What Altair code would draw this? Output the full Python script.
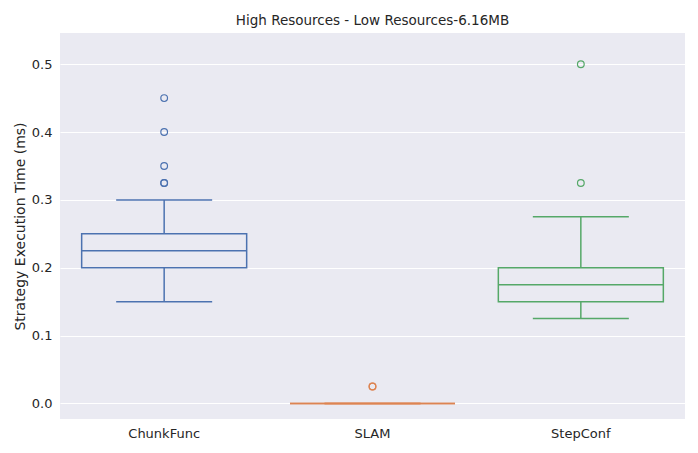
import altair as alt
import pandas as pd

cats = ["ChunkFunc", "SLAM", "StepConf"]
colors = ["#4c72b0", "#dd8452", "#55a868"]
wlow = [0.15, 0.0, 0.125]
q1 = [0.2, 0.0, 0.15]
med = [0.225, 0.0, 0.175]
q3 = [0.25, 0.0, 0.2]
whigh = [0.3, 0.0, 0.275]
out_cat = ["ChunkFunc"] * 5 + ["SLAM"] * 2 + ["StepConf"] * 2
out_val = [0.325, 0.325, 0.35, 0.4, 0.45, 0.025, 0.025, 0.325, 0.5]

df = pd.DataFrame(dict(cat=cats, wlow=wlow, q1=q1, med=med, q3=q3, whigh=whigh))
dfo = pd.DataFrame(dict(cat=out_cat, v=out_val))

x = alt.X("cat:N", sort=cats, title=None,
          scale=alt.Scale(paddingInner=0.2, paddingOuter=0.1),
          axis=alt.Axis(labelAngle=0, labelFontSize=13, labelColor="#262626", ticks=False, labelPadding=8, domain=False, grid=False))
color = alt.Color("cat:N", scale=alt.Scale(domain=cats, range=colors), legend=None)
ysc = alt.Scale(domain=[-0.023, 0.546], nice=False, zero=False)
y = alt.Y("q1:Q", scale=ysc, title="Strategy Execution Time (ms)",
          axis=alt.Axis(values=[0, 0.1, 0.2, 0.3, 0.4, 0.5], format=".1f", gridColor="white", gridWidth=1.2,
                        domain=False, ticks=False, labelFontSize=13, labelColor="#262626", titleFontSize=14,
                        titleFontWeight="normal", titleColor="#262626", labelPadding=8))

base = alt.Chart(df)
whisk1 = base.mark_rule(strokeWidth=1.5).encode(x=x, y=alt.Y("wlow:Q", scale=ysc), y2="q1:Q", color=color)
whisk2 = base.mark_rule(strokeWidth=1.5).encode(x=x, y=alt.Y("q3:Q", scale=ysc), y2="whigh:Q", color=color)
box = base.mark_bar(size=165, fill="#eaeaf2", strokeWidth=1.5).encode(x=x, y=y, y2="q3:Q", stroke=color)
medt = base.mark_tick(size=165, thickness=1.5, opacity=1).encode(x=x, y=alt.Y("med:Q", scale=ysc), color=color)
capl = base.mark_tick(size=96, thickness=1.5, opacity=1).encode(x=x, y=alt.Y("wlow:Q", scale=ysc), color=color)
caph = base.mark_tick(size=96, thickness=1.5, opacity=1).encode(x=x, y=alt.Y("whigh:Q", scale=ysc), color=color)
pts = alt.Chart(dfo).mark_point(size=45, filled=False, strokeWidth=1.2, opacity=1).encode(
    x=x, y=alt.Y("v:Q", scale=ysc), color=color)

chart = alt.layer(box, whisk1, whisk2, medt, capl, caph, pts).properties(
    width=682, height=437,
    autosize=alt.AutoSizeParams(type="fit", contains="padding"),
    title=alt.Title("High Resources - Low Resources-6.16MB", fontSize=13.5, fontWeight="normal", color="#262626", offset=6),
).configure(
    font="DejaVu Sans",
    view=alt.ViewConfig(fill="#eaeaf2", stroke=None),
)

chart.save("out.html", embed_options={"renderer": "svg", "actions": False})
